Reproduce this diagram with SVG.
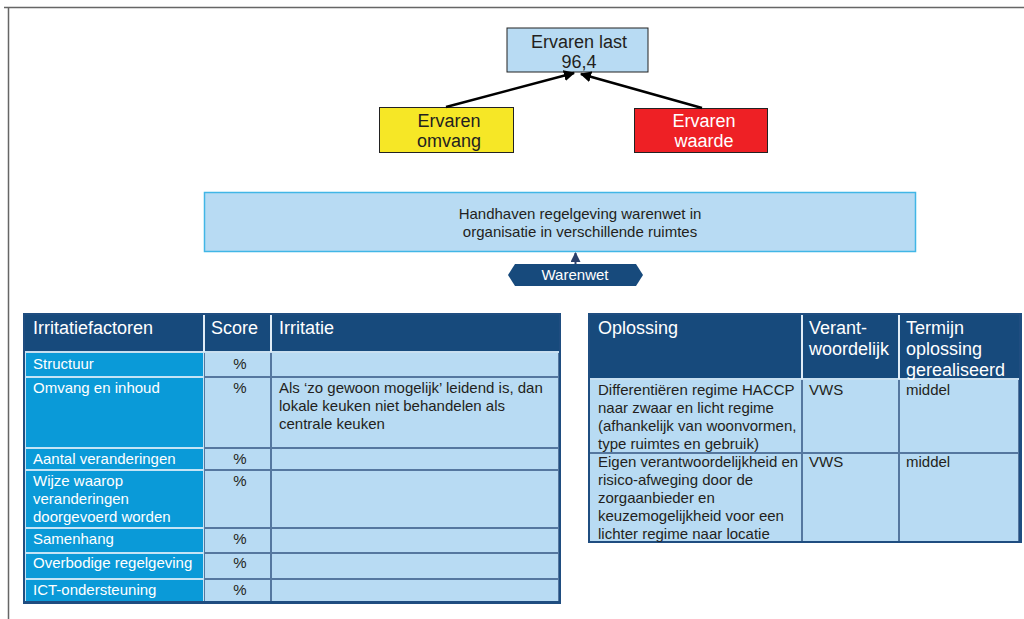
<svg xmlns="http://www.w3.org/2000/svg" width="1024" height="619" viewBox="0 0 1024 619">
<defs>
<style>
text{font-family:"Liberation Sans",Arial,sans-serif;}
.t18{font-size:18px;}
.t15{font-size:15px;}
.dk{fill:#231f20;}
.wh{fill:#fff;}
.light{fill:#b8dbf3;}
.bright{fill:#0a9ad8;}
.hdr{fill:#174a7c;}
.conn{stroke:#000;stroke-width:2.5;fill:none;}
</style>
<marker id="ah" viewBox="0 0 10 10" refX="9" refY="5" markerWidth="4.5" markerHeight="4.5" orient="auto">
<path d="M0,0 L10,5 L0,10 z" fill="#000"/>
</marker>
<marker id="ah2" viewBox="0 0 10 10" refX="9" refY="5" markerWidth="5" markerHeight="5" orient="auto">
<path d="M0,0 L10,5 L0,10 z" fill="#2a3f6a"/>
</marker>
</defs>
<rect width="1024" height="619" fill="#fff"/>
<g id="frame" stroke="#666" stroke-width="1.5" fill="none">
<line x1="4" y1="7.5" x2="1024" y2="7.5"/>
<line x1="8.5" y1="7" x2="8.5" y2="619"/>
</g>

<g id="ervaren-last">
<rect x="507" y="28" width="141" height="44" class="light" stroke="#222" stroke-width="1"/>
<text x="579" y="48" class="t18 dk" text-anchor="middle">Ervaren last</text>
<text x="579" y="68" class="t18 dk" text-anchor="middle">96,4</text>
</g>
<g id="ervaren-omvang">
<rect x="379.5" y="107.5" width="134" height="45" fill="#f6e726" stroke="#222" stroke-width="1"/>
<text x="449" y="127" class="t18 dk" text-anchor="middle">Ervaren</text>
<text x="449" y="147" class="t18 dk" text-anchor="middle">omvang</text>
</g>
<g id="ervaren-waarde">
<rect x="634.5" y="108.5" width="133" height="44" fill="#ee2025" stroke="#222" stroke-width="1"/>
<text x="704" y="127" class="t18 wh" text-anchor="middle">Ervaren</text>
<text x="704" y="147" class="t18 wh" text-anchor="middle">waarde</text>
</g>
<g id="handhaven">
<rect x="204.5" y="192.5" width="711" height="59" class="light" stroke="#41b6e6" stroke-width="1.5"/>
<text x="580" y="219" class="t15 dk" text-anchor="middle">Handhaven regelgeving warenwet in</text>
<text x="580" y="237" class="t15 dk" text-anchor="middle">organisatie in verschillende ruimtes</text>
</g>
<g id="warenwet">
<polygon points="508,275 515,264 636,264 643,275 636,286 515,286" class="hdr"/>
<text x="575" y="280" class="t15 wh" text-anchor="middle">Warenwet</text>
</g>

<g id="connectors">
<line x1="446" y1="107" x2="574" y2="73" class="conn" marker-end="url(#ah)"/>
<line x1="702" y1="108" x2="581" y2="74" class="conn" marker-end="url(#ah)"/>
<line x1="575.5" y1="264" x2="575.5" y2="253" stroke="#2a3f6a" stroke-width="2" marker-end="url(#ah2)"/>
</g>

<g id="irritatie-tabel">
<rect x="23" y="313" width="538" height="291" fill="#1f4d80"/>
<rect x="25" y="352" width="179" height="249" fill="#c4e4f6"/>
<rect x="204" y="352" width="355" height="249" fill="#55779f"/>
<rect x="25" y="315" width="534" height="37" class="hdr"/>
<rect x="25" y="351" width="534" height="2" fill="#c8dff0"/>
<rect x="203" y="315" width="2" height="37" fill="#e0ecf6"/>
<rect x="270" y="315" width="2" height="37" fill="#e0ecf6"/>
<text x="33" y="334" class="t18 wh">Irritatiefactoren</text>
<text x="211" y="334" class="t18 wh">Score</text>
<text x="279" y="334" class="t18 wh">Irritatie</text>

<g class="bright">
<rect x="26" y="353" width="177" height="23"/>
<rect x="26" y="378" width="177" height="69"/>
<rect x="26" y="449" width="177" height="20"/>
<rect x="26" y="471" width="177" height="56"/>
<rect x="26" y="529" width="177" height="23"/>
<rect x="26" y="554" width="177" height="24"/>
<rect x="26" y="580" width="177" height="21"/>
</g>
<g class="light">
<rect x="205" y="353" width="65" height="23"/><rect x="272" y="353" width="286" height="23"/>
<rect x="205" y="378" width="65" height="69"/><rect x="272" y="378" width="286" height="69"/>
<rect x="205" y="449" width="65" height="20"/><rect x="272" y="449" width="286" height="20"/>
<rect x="205" y="471" width="65" height="56"/><rect x="272" y="471" width="286" height="56"/>
<rect x="205" y="529" width="65" height="23"/><rect x="272" y="529" width="286" height="23"/>
<rect x="205" y="554" width="65" height="24"/><rect x="272" y="554" width="286" height="24"/>
<rect x="205" y="580" width="65" height="21"/><rect x="272" y="580" width="286" height="21"/>
</g>
<g class="t15 wh">
<text x="33" y="369">Structuur</text>
<text x="33" y="393">Omvang en inhoud</text>
<text x="33" y="464">Aantal veranderingen</text>
<text x="33" y="486">Wijze waarop</text>
<text x="33" y="504">veranderingen</text>
<text x="33" y="522">doorgevoerd worden</text>
<text x="33" y="544">Samenhang</text>
<text x="33" y="568">Overbodige regelgeving</text>
<text x="33" y="595">ICT-ondersteuning</text>
</g>
<g class="t15 dk" text-anchor="middle">
<text x="240" y="369">%</text>
<text x="240" y="393">%</text>
<text x="240" y="464">%</text>
<text x="240" y="486">%</text>
<text x="240" y="544">%</text>
<text x="240" y="568">%</text>
<text x="240" y="595">%</text>
</g>
<g class="t15 dk">
<text x="279" y="393">Als ‘zo gewoon mogelijk’ leidend is, dan</text>
<text x="279" y="411">lokale keuken niet behandelen als</text>
<text x="279" y="429">centrale keuken</text>
</g>
</g>

<g id="oplossing-tabel">
<rect x="588" y="313" width="434" height="230" fill="#1f4d80"/>
<rect x="590" y="379" width="429" height="162" fill="#55779f"/>
<rect x="590" y="315" width="429" height="64" class="hdr"/>
<rect x="590" y="378" width="429" height="2" fill="#c8dff0"/>
<rect x="801" y="315" width="2" height="64" fill="#e0ecf6"/>
<rect x="898" y="315" width="2" height="64" fill="#e0ecf6"/>
<g class="t18 wh">
<text x="598" y="334">Oplossing</text>
<text x="809" y="334">Verant-</text>
<text x="809" y="355">woordelijk</text>
<text x="906" y="334">Termijn</text>
<text x="906" y="355">oplossing</text>
<text x="906" y="376">gerealiseerd</text>
</g>
<g class="light">
<rect x="590" y="380" width="211" height="72"/><rect x="803" y="380" width="95" height="72"/><rect x="900" y="380" width="118" height="72"/>
<rect x="590" y="454" width="211" height="87"/><rect x="803" y="454" width="95" height="87"/><rect x="900" y="454" width="118" height="87"/>
</g>
<g class="t15 dk">
<text x="598" y="395">Differentiëren regime HACCP</text>
<text x="598" y="413">naar zwaar en licht regime</text>
<text x="598" y="431">(afhankelijk van woonvormen,</text>
<text x="598" y="449">type ruimtes en gebruik)</text>
<text x="809" y="395">VWS</text>
<text x="906" y="395">middel</text>
<text x="598" y="467">Eigen verantwoordelijkheid en</text>
<text x="598" y="485">risico-afweging door de</text>
<text x="598" y="503">zorgaanbieder en</text>
<text x="598" y="521">keuzemogelijkheid voor een</text>
<text x="598" y="539">lichter regime naar locatie</text>
<text x="809" y="467">VWS</text>
<text x="906" y="467">middel</text>
</g>
</g>
</svg>
